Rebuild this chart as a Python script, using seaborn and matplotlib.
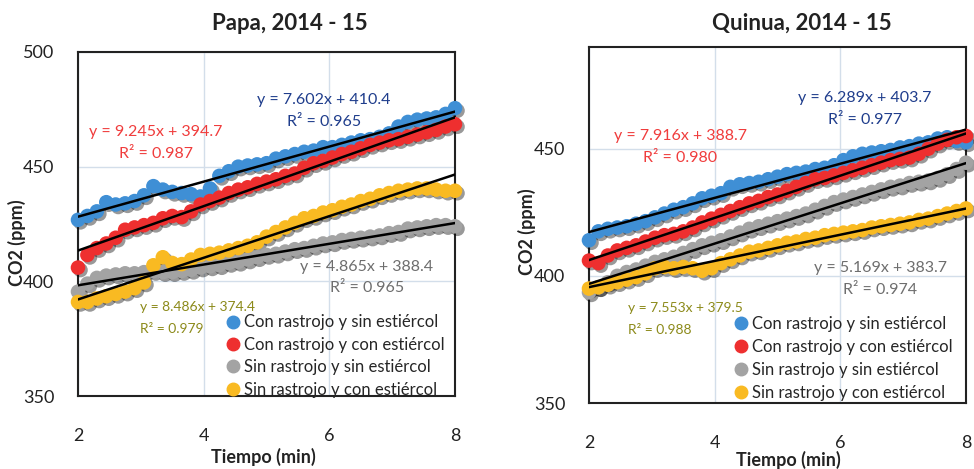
import matplotlib
matplotlib.use("Agg")
import matplotlib.pyplot as plt
import matplotlib.patheffects as pe
from matplotlib import font_manager
from matplotlib.lines import Line2D
import pandas as pd
import seaborn as sns

# ─────────────────────────────────────────────
# DATA
# ─────────────────────────────────────────────
TIME = [2.00, 2.15, 2.30, 2.45, 2.60, 2.75, 2.90, 3.05, 3.20, 3.35,
        3.50, 3.65, 3.80, 3.95, 4.10, 4.25, 4.40, 4.55, 4.70, 4.85,
        5.00, 5.15, 5.30, 5.45, 5.60, 5.75, 5.90, 6.05, 6.20, 6.35,
        6.50, 6.65, 6.80, 6.95, 7.10, 7.25, 7.40, 7.55, 7.70, 7.85, 8.00]

SERIES = ["Con rastrojo y sin estiércol", "Con rastrojo y con estiércol",
          "Sin rastrojo y sin estiércol", "Sin rastrojo y con estiércol"]

# Papa, 2014 - 15
papa_con_sin = [426.8, 428.5, 430.5, 434.5, 433.5, 434.0, 435.0, 437.5, 441.5, 440.0,
                439.0, 438.5, 438.0, 437.0, 440.5, 446.0, 448.0, 450.0, 450.5, 451.0,
                451.5, 453.5, 454.5, 455.5, 456.5, 457.0, 458.5, 458.5, 459.5, 460.5,
                461.5, 462.0, 463.0, 464.5, 467.5, 469.5, 470.5, 471.0, 471.5, 473.0, 475.5]
papa_con_con = [406.0, 411.5, 414.5, 416.5, 419.0, 422.5, 423.5, 424.5, 425.5, 427.5,
                428.5, 428.0, 430.5, 433.5, 435.0, 436.5, 438.5, 440.0, 441.0, 442.5,
                443.5, 444.5, 446.0, 447.0, 449.5, 451.5, 452.5, 454.0, 455.5, 456.5,
                458.0, 459.5, 460.5, 461.5, 462.0, 463.0, 464.0, 465.0, 466.0, 467.5, 468.5]
papa_sin_sin = [395.5, 399.0, 401.5, 402.5, 403.0, 403.5, 403.5, 404.0, 404.5, 404.0,
                404.0, 404.5, 405.0, 406.0, 406.5, 407.0, 408.0, 408.5, 409.5, 410.5,
                411.5, 412.0, 413.0, 414.0, 414.5, 415.5, 416.5, 417.0, 418.0, 418.5,
                419.0, 419.5, 420.0, 421.0, 421.5, 423.0, 423.5, 424.0, 424.5, 424.5, 424.0]
papa_sin_con = [391.0, 391.0, 392.5, 393.5, 394.5, 395.5, 397.0, 399.5, 407.0, 410.5,
                408.0, 407.5, 409.5, 411.5, 412.0, 412.5, 413.5, 414.5, 415.5, 417.0,
                419.5, 421.5, 423.5, 425.5, 427.5, 428.5, 430.0, 431.0, 432.5, 433.5,
                435.0, 436.0, 437.5, 438.5, 439.5, 440.0, 440.5, 440.5, 440.0, 439.5, 439.5]

# Quinua, 2014 - 15
quinua_con_sin = [414.0, 417.5, 418.5, 419.0, 419.5, 420.5, 421.5, 423.0, 424.5, 426.0,
                  427.0, 428.5, 430.5, 431.5, 432.5, 435.0, 436.0, 436.5, 437.0, 438.0,
                  439.0, 440.0, 440.5, 441.0, 442.0, 442.5, 443.5, 445.5, 447.0, 448.0,
                  448.5, 449.0, 449.5, 450.5, 451.0, 452.0, 452.5, 454.0, 454.5, 453.0, 452.5]
quinua_con_con = [406.0, 405.0, 408.0, 410.0, 411.0, 412.0, 413.5, 415.0, 416.0, 416.5,
                  417.5, 419.0, 421.0, 422.5, 424.0, 425.5, 427.0, 428.5, 429.5, 431.0,
                  432.0, 433.5, 435.0, 436.5, 438.0, 438.5, 439.5, 440.5, 441.5, 442.5,
                  443.5, 444.5, 445.5, 446.0, 446.5, 448.0, 450.0, 452.0, 453.5, 454.5, 455.0]
quinua_sin_sin = [393.5, 395.5, 397.5, 400.0, 401.5, 402.5, 404.0, 405.5, 406.5, 407.5,
                  409.0, 410.5, 412.0, 413.0, 414.0, 415.5, 417.0, 418.5, 419.5, 420.5,
                  421.5, 422.5, 423.5, 424.5, 426.0, 427.5, 429.0, 430.0, 431.0, 432.0,
                  433.0, 434.0, 435.0, 435.5, 436.5, 437.0, 437.5, 438.5, 440.0, 442.0, 444.5]
quinua_sin_con = [395.0, 395.5, 396.5, 397.5, 398.5, 399.5, 401.0, 403.0, 403.5, 403.0,
                  403.5, 403.0, 402.0, 403.0, 405.0, 406.5, 408.0, 409.5, 410.0, 411.0,
                  412.0, 413.0, 413.5, 414.5, 415.0, 416.0, 416.5, 417.0, 417.5, 418.0,
                  419.0, 419.5, 420.0, 420.5, 421.0, 422.0, 422.5, 423.5, 424.5, 425.5, 426.5]

# trend-line labels as printed on the chart
papa_eq = ["y = 7.602x + 410.4", "y = 9.245x + 394.7",
           "y = 4.865x + 388.4", "y = 8.486x + 374.4"]
papa_r2 = ["R² = 0.965", "R² = 0.987", "R² = 0.965", "R² = 0.979"]
quinua_eq = ["y = 6.289x + 403.7", "y = 7.916x + 388.7",
             "y = 5.169x + 383.7", "y = 7.553x + 379.5"]
quinua_r2 = ["R² = 0.977", "R² = 0.980", "R² = 0.974", "R² = 0.988"]

COLORS = ["#3F8FD5", "#EE2F2F", "#A3A3A3", "#F9BA22"]
EQ_COLORS = ["#1F3D8C", "#F03C3C", "#6E6E6E", "#8C8A1A"]


def long_df(values):
    rows = []
    for name, vals in zip(SERIES, values):
        for t, v in zip(TIME, vals):
            rows.append({"t": t, "co2": v, "serie": name})
    return pd.DataFrame(rows)


papa_df = long_df([papa_con_sin, papa_con_con, papa_sin_sin, papa_sin_con])
quinua_df = long_df([quinua_con_sin, quinua_con_con, quinua_sin_sin, quinua_sin_con])

# ─────────────────────────────────────────────
# STYLE
# ─────────────────────────────────────────────
sns.set_theme(style="white")
plt.rcParams["font.family"] = ["Lato", "DejaVu Sans"]

# the olive label uses a narrow face in the original
installed = {f.name for f in font_manager.fontManager.ttflist}
if "Liberation Sans Narrow" in installed:
    NARROW = dict(family=["Liberation Sans Narrow", "DejaVu Sans"], fontsize=11.5)
else:
    NARROW = dict(family=["Lato", "DejaVu Sans"], fontsize=10)

W, H = 974, 469
fig = plt.figure(figsize=(W / 100, H / 100), dpi=100)


def px_box(x0, x1, top, bottom):
    return [x0 / W, 1 - bottom / H, (x1 - x0) / W, (bottom - top) / H]


def draw_panel(ax, df, ylim, yticks, eqs, r2s, eq_pos, legend_xy):
    shadow = [pe.SimplePatchShadow(offset=(1.8, -1.8), shadow_rgbFace="black", alpha=0.4),
              pe.Normal()]
    sns.scatterplot(data=df, x="t", y="co2", hue="serie", hue_order=SERIES,
                    palette=COLORS, s=110, linewidth=0, legend=False, ax=ax,
                    clip_on=False, zorder=3)
    for coll in ax.collections:
        coll.set_path_effects(shadow)
    for name in SERIES:
        sub = df[df["serie"] == name]
        sns.regplot(data=sub, x="t", y="co2", scatter=False, ci=None, ax=ax,
                    color="black", line_kws={"lw": 1.8, "zorder": 5})

    ax.set_xlim(2, 8)
    ax.set_ylim(*ylim)
    ax.set_xticks([2, 4, 6, 8])
    ax.set_yticks(yticks)
    ax.grid(True, color="#D3DEEA", lw=1.0)
    ax.set_axisbelow(True)
    ax.tick_params(axis="both", length=0, labelsize=13, colors="#222222")
    ax.tick_params(axis="x", pad=23)
    ax.tick_params(axis="y", pad=17)
    for s in ax.spines.values():
        s.set_color("#222222")
        s.set_linewidth(1.5)
    ax.set_xlabel("")
    ax.set_ylabel("")

    # equation + R² labels, two lines each
    for i, (eq, r2, (x, y)) in enumerate(zip(eqs, r2s, eq_pos)):
        if i == 3:
            kw = dict(color=EQ_COLORS[i], ha="left", va="center", **NARROW)
        else:
            kw = dict(color=EQ_COLORS[i], ha="center", va="center", fontsize=11.5)
        fig.text(x / W, 1 - y / H, eq, **kw)
        fig.text(x / W, 1 - (y + 21.5) / H, r2, **kw)

    handles = [Line2D([], [], ls="", marker="o", ms=9, mfc=c, mec=c) for c in COLORS]
    ax.legend(handles, SERIES, loc="upper left", frameon=False, fontsize=12,
              bbox_to_anchor=(legend_xy[0] / W, 1 - legend_xy[1] / H),
              bbox_transform=fig.transFigure, borderpad=0, borderaxespad=0,
              handlelength=0.9, handletextpad=0.25, labelspacing=legend_xy[2])


ax1 = fig.add_axes(px_box(78, 455, 52, 396))
draw_panel(ax1, papa_df, (350, 500), [350, 400, 450, 500], papa_eq, papa_r2,
           [(324, 100), (156, 132), (367, 267), (140, 307)], (225, 314.5, 0.38))

ax2 = fig.add_axes(px_box(589, 966, 47, 403))
draw_panel(ax2, quinua_df, (350, 490), [350, 400, 450], quinua_eq, quinua_r2,
           [(865, 98), (680, 136), (880, 268), (628, 308)], (733, 315.5, 0.43))

# titles and axis labels
fig.text(290 / W, 1 - 23 / H, "Papa, 2014 - 15", fontsize=16, fontweight="bold",
         ha="center", va="center", color="#222222")
fig.text(802 / W, 1 - 23 / H, "Quinua, 2014 - 15", fontsize=16, fontweight="bold",
         ha="center", va="center", color="#222222")
fig.text(263 / W, 1 - 457 / H, "Tiempo (min)", fontsize=13, fontweight="bold",
         ha="center", va="center", color="#222222")
fig.text(788 / W, 1 - 460 / H, "Tiempo (min)", fontsize=13, fontweight="bold",
         ha="center", va="center", color="#222222")
fig.text(17 / W, 1 - 243 / H, "CO2 (ppm)", fontsize=13, fontweight="bold",
         ha="center", va="center", rotation=90, color="#222222")
fig.text(527 / W, 1 - 232 / H, "CO2 (ppm)", fontsize=13, fontweight="bold",
         ha="center", va="center", rotation=90, color="#222222")

fig.savefig("out.png", dpi=100)
